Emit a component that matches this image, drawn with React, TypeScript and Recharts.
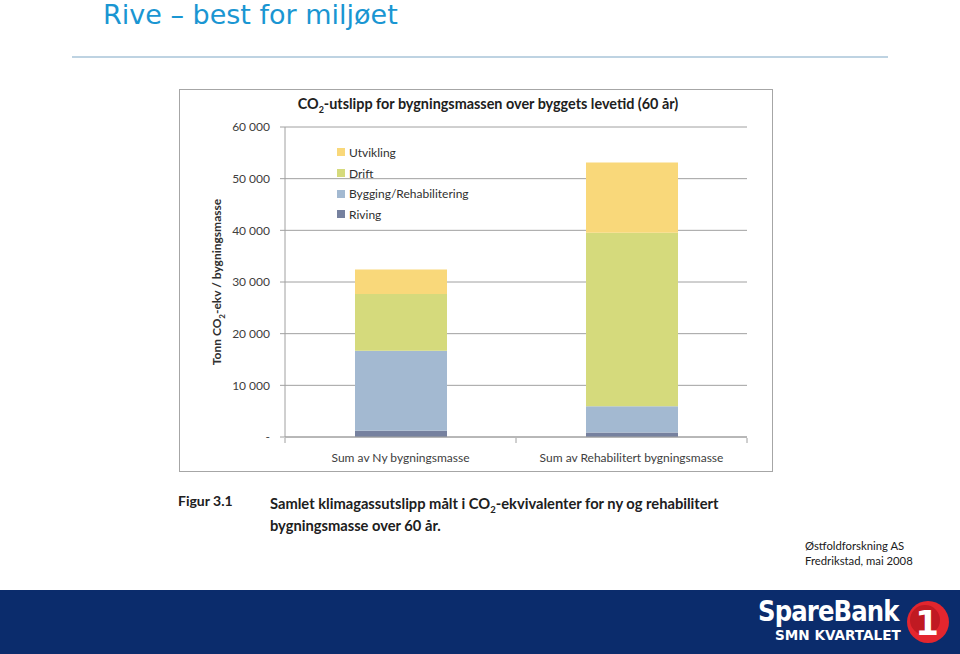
import React from "react";
import { BarChart, Bar, XAxis, YAxis, CartesianGrid } from "recharts";

const categories = ["Sum av Ny bygningsmasse", "Sum av Rehabilitert  bygningsmasse"];
const riving = [1200, 850];
const bygging = [15500, 5100];
const drift = [11000, 33600];
const utvikling = [4700, 13600];
const yTicks = [0, 10000, 20000, 30000, 40000, 50000, 60000];

const seriesDefs = [
  { key: "riving", name: "Riving", color: "#76819f", values: riving },
  { key: "bygging", name: "Bygging/Rehabilitering", color: "#a3b9d1", values: bygging },
  { key: "drift", name: "Drift", color: "#d5da7c", values: drift },
  { key: "utvikling", name: "Utvikling", color: "#f9d87a", values: utvikling },
];

const data = categories.map((c, i) => {
  const row: any = { name: c };
  seriesDefs.forEach((s) => (row[s.key] = s.values[i]));
  return row;
});

const FONT = "Lato, 'Open Sans', sans-serif";

const fmt = (v: number) =>
  v === 0 ? "-" : String(v).replace(/\B(?=(\d{3})+(?!\d))/g, " ");

const XTick = (props: any) => {
  const { x, y, payload, index, visibleTicksCount } = props;
  const off = payload && payload.offset ? payload.offset : 0;
  return (
    <g>
      {off ? <line x1={x - off} x2={x - off} y1={y - 7} y2={y - 2} stroke="#a0a0a0" /> : null}
      {off && index === visibleTicksCount - 1 ? (
        <line x1={x + off} x2={x + off} y1={y - 7} y2={y - 2} stroke="#a0a0a0" />
      ) : null}
      <text x={x} y={y + 17} textAnchor="middle" fontSize={12} fill="#404040" fontFamily={FONT}>
        {payload.value}
      </text>
    </g>
  );
};

const LegendBox = () => {
  const items = [...seriesDefs].reverse();
  return (
    <div style={{ position: "absolute", left: 337, top: 142, fontFamily: FONT, fontSize: 12, color: "#303030" }}>
      {items.map((s) => (
        <div key={s.key} style={{ display: "flex", alignItems: "center", height: 20.7, whiteSpace: "nowrap" }}>
          <span style={{ display: "inline-block", width: 8, height: 8, background: s.color, marginRight: 4 }} />
          <span>{s.name}</span>
        </div>
      ))}
    </div>
  );
};

export default function App() {
  return (
    <div style={{ position: "absolute", left: 0, top: 0, width: 960, height: 654, background: "#fff", overflow: "hidden" }}>
      <div
        style={{
          position: "absolute",
          left: 103,
          top: 0,
          fontFamily: "'DejaVu Sans', sans-serif",
          fontSize: 27,
          lineHeight: "30px",
          color: "#1a96d2",
          whiteSpace: "nowrap",
        }}
      >
        Rive – best for miljøet
      </div>
      <div style={{ position: "absolute", left: 72, top: 56, width: 816, height: 2, background: "#bed3e2" }} />

      <div style={{ position: "absolute", left: 179, top: 89, width: 592, height: 381, border: "1px solid #a6a6a6" }} />
      <div
        style={{
          position: "absolute",
          left: 179,
          top: 95,
          width: 618,
          textAlign: "center",
          fontFamily: FONT,
          fontWeight: 700,
          fontSize: 14.4,
          color: "#202020",
          whiteSpace: "nowrap",
        }}
      >
        CO<sub style={{ fontSize: 9 }}>2</sub>-utslipp for bygningsmassen over byggets levetid (60 år)
      </div>
      <div
        style={{
          position: "absolute",
          left: 218,
          top: 282,
          transform: "translate(-50%, -50%) rotate(-90deg)",
          fontFamily: FONT,
          fontWeight: 700,
          fontSize: 12,
          color: "#303030",
          whiteSpace: "nowrap",
        }}
      >
        Tonn CO<sub style={{ fontSize: 8 }}>2</sub>-ekv / bygningsmasse
      </div>

      <div style={{ position: "absolute", left: 179, top: 89 }}>
        <BarChart
          width={594}
          height={383}
          data={data}
          margin={{ top: 38, right: 26, bottom: 0, left: 0 }}
          barSize={92}
        >
          <CartesianGrid vertical={false} stroke="#a0a0a0" />
          <XAxis
            dataKey="name"
            stroke="#a0a0a0"
            tickLine={false}
            height={35}
            tick={<XTick />}
            interval={0}
          />
          <YAxis
            width={106}
            domain={[0, 60000]}
            ticks={yTicks}
            tickFormatter={fmt}
            stroke="#a0a0a0"
            tickSize={5}
            tickMargin={10}
            tick={{ fontSize: 12, fill: "#404040", fontFamily: FONT }}
            interval={0}
          />
          {seriesDefs.map((s) => (
            <Bar key={s.key} dataKey={s.key} name={s.name} stackId="a" fill={s.color} isAnimationActive={false} />
          ))}
        </BarChart>
      </div>
      <LegendBox />

      <div style={{ position: "absolute", left: 178, top: 492, fontFamily: FONT, fontWeight: 700, fontSize: 14, color: "#202020", whiteSpace: "nowrap" }}>
        Figur 3.1
      </div>
      <div style={{ position: "absolute", left: 270, top: 492, fontFamily: FONT, fontWeight: 700, fontSize: 14.7, color: "#202020", whiteSpace: "nowrap", lineHeight: "22px" }}>
        Samlet klimagassutslipp målt i CO<sub style={{ fontSize: 9.5, lineHeight: 0 }}>2</sub>-ekvivalenter for ny og rehabilitert
        <br />
        bygningsmasse over 60 år.
      </div>
      <div style={{ position: "absolute", left: 805, top: 538, fontFamily: FONT, fontSize: 11.3, color: "#202020", whiteSpace: "nowrap", lineHeight: "15px" }}>
        Østfoldforskning AS
        <br />
        Fredrikstad, mai 2008
      </div>

      <div style={{ position: "absolute", left: 0, top: 590, width: 960, height: 64, background: "#0b2c6c" }} />
      <div style={{ position: "absolute", left: 758, top: 599, fontFamily: "'DejaVu Sans', sans-serif", fontWeight: 700, fontSize: 28, lineHeight: "26px", color: "#fff", whiteSpace: "nowrap", letterSpacing: -1, transformOrigin: "left top", transform: "scaleX(0.87)" }}>
        SpareBank
      </div>
      <div style={{ position: "absolute", left: 775, top: 628, fontFamily: "'DejaVu Sans', sans-serif", fontWeight: 700, fontSize: 14, lineHeight: "14px", color: "#fff", whiteSpace: "nowrap", transformOrigin: "left top", transform: "scaleX(0.97)" }}>
        SMN KVARTALET
      </div>
      <svg style={{ position: "absolute", left: 904, top: 598 }} width={48} height={48}>
        <circle cx={24} cy={24} r={21} fill="#e3262e" />
        <circle cx={21} cy={22} r={15} fill="#c01a22" />
        <text x={23} y={37} textAnchor="middle" fontFamily="'DejaVu Sans', sans-serif" fontWeight={700} fontSize={34} fill="#fff">
          1
        </text>
      </svg>
    </div>
  );
}
